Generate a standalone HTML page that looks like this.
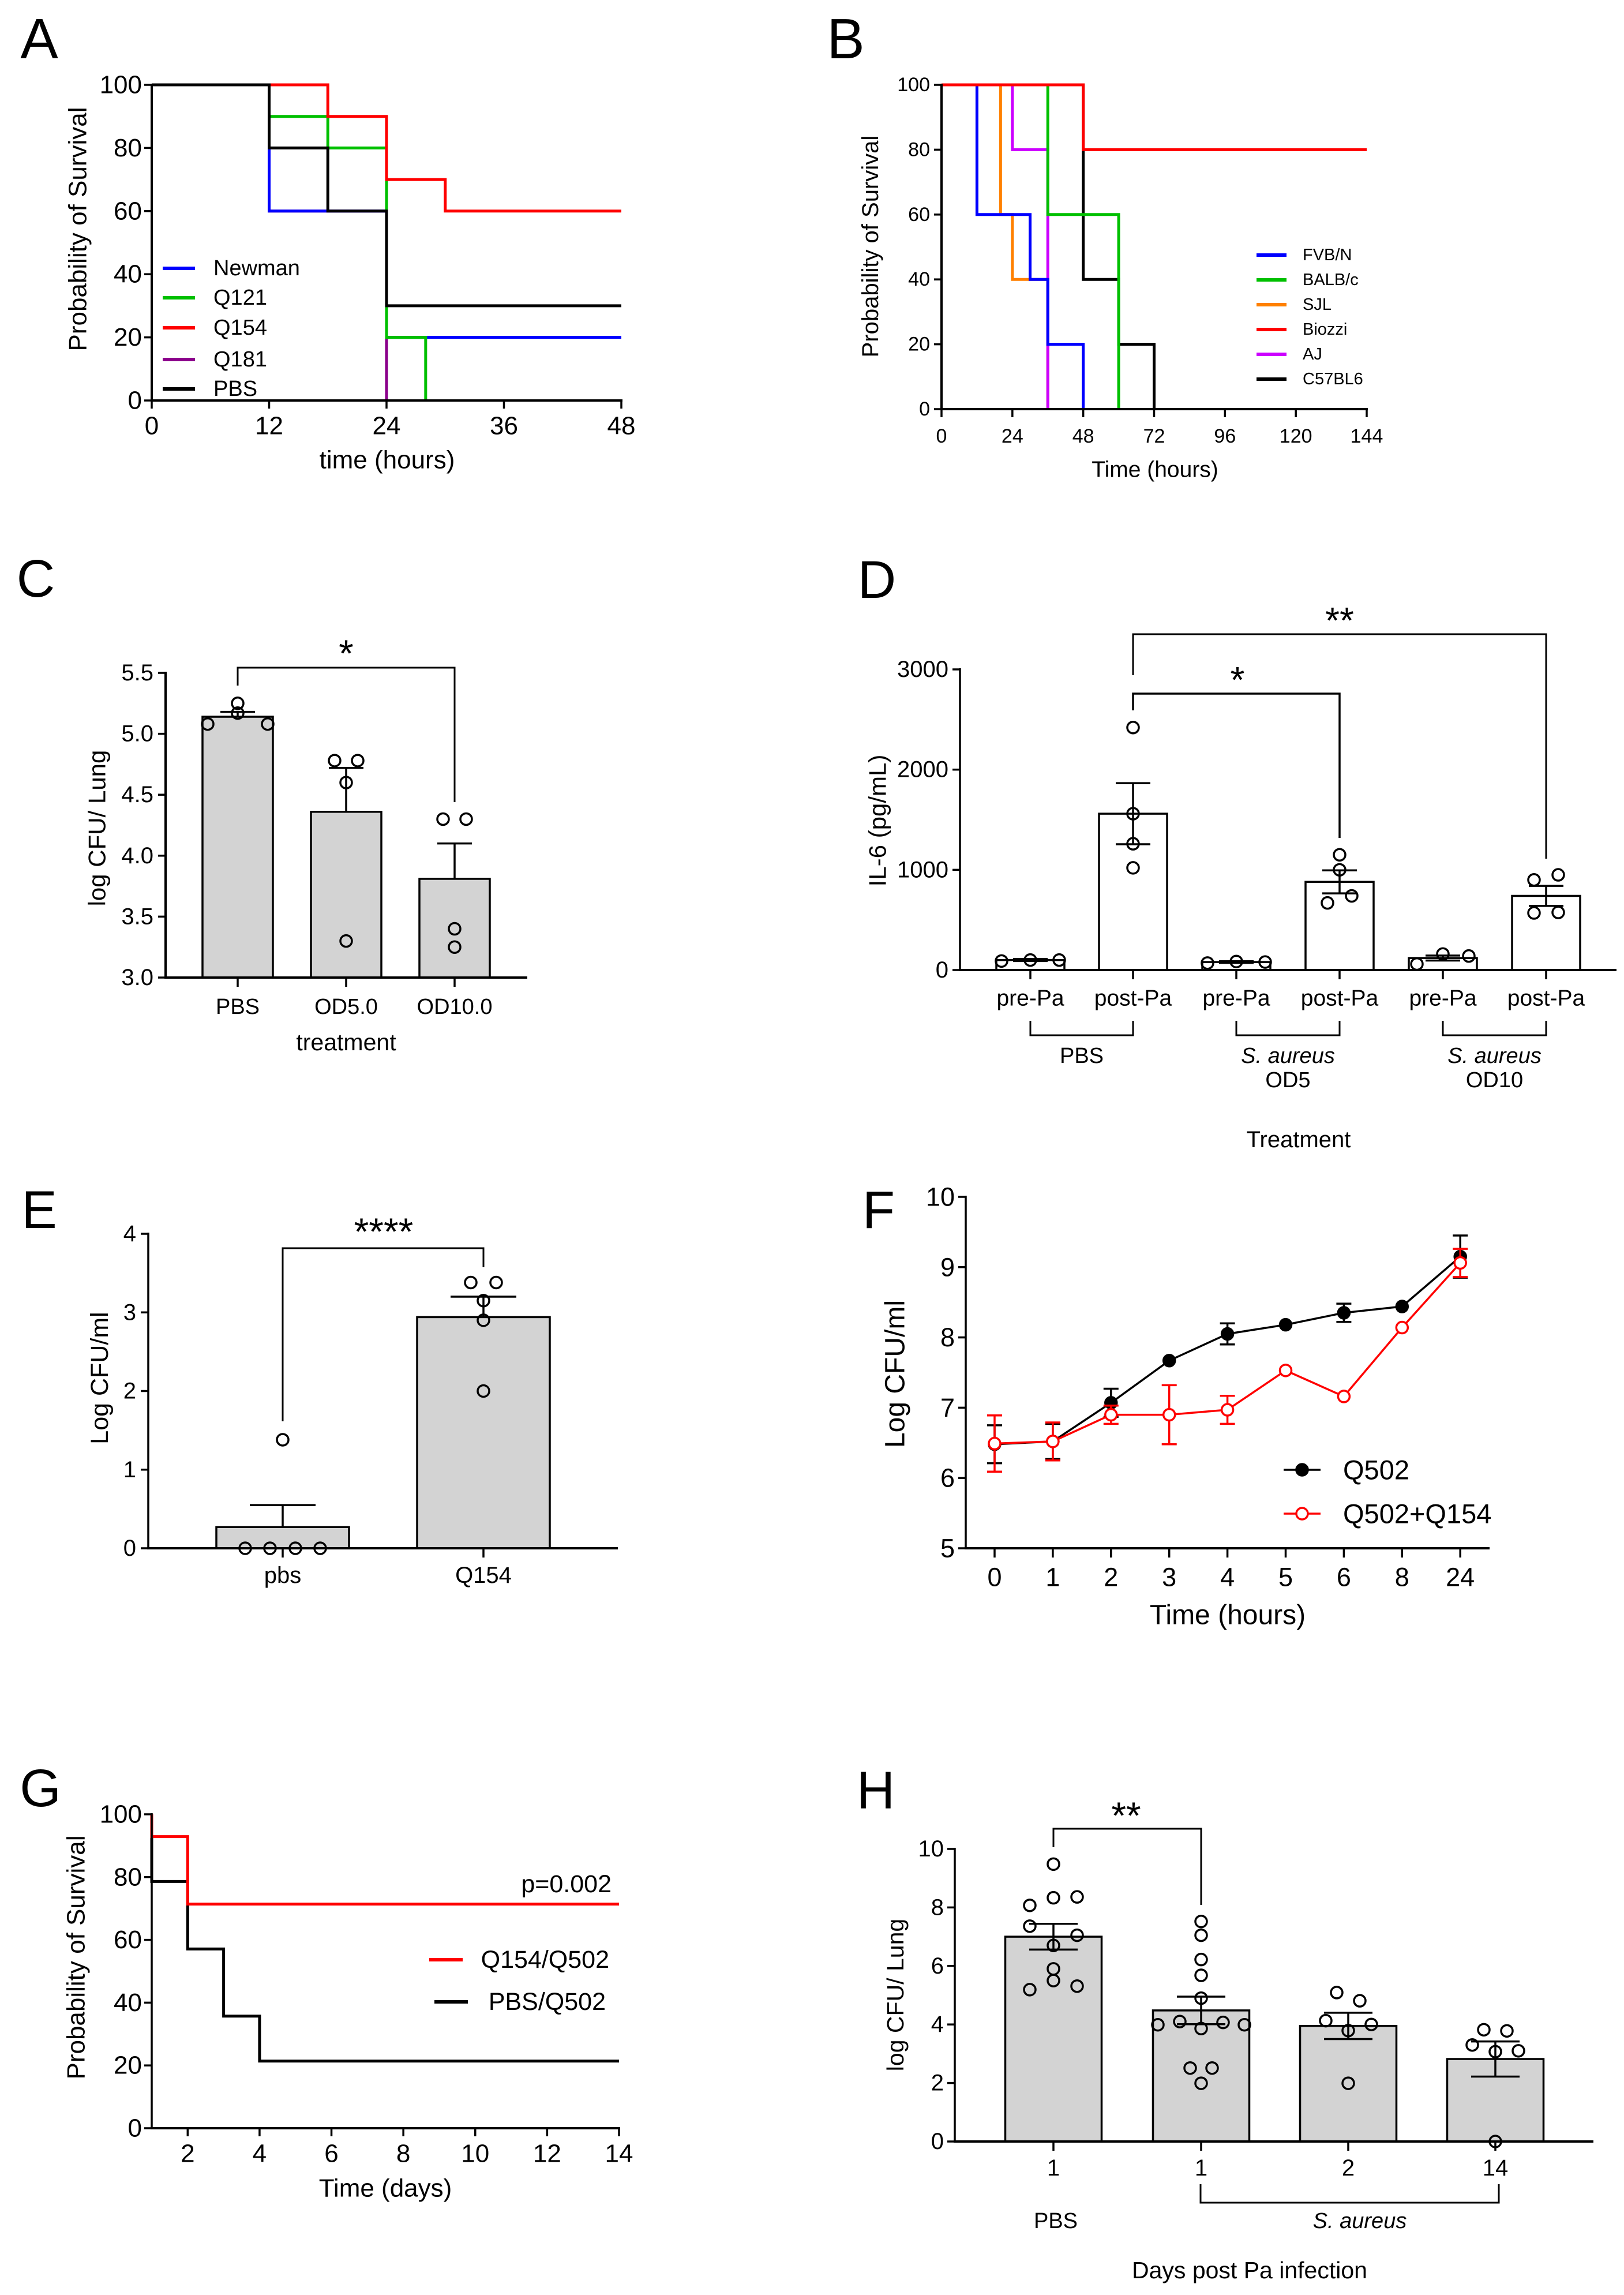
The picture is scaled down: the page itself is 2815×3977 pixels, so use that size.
<!DOCTYPE html>
<html><head><meta charset="utf-8"><title>Figure panels A–H</title>
<style>
html,body{margin:0;padding:0;background:#fff;}
svg{display:block;}
text{font-family:"Liberation Sans",Arial,sans-serif;fill:#000;}
</style></head>
<body>
<svg id="fig" xmlns="http://www.w3.org/2000/svg" width="2815" height="3977" viewBox="0 0 2815 3977">
<rect x="0" y="0" width="2815" height="3977" fill="#fff"/>
</svg>
<script>
// ===== Panel A data =====
const aNewmanTimes = [0,12,24,48];
const aNewmanSurv = [100,60,20];
const aQ121Times = [0,12,18,24,28,48];
const aQ121Surv = [100,90,80,20,0];
const aQ181Times = [0,12,24,48];
const aQ181Surv = [100,60,0];
const aQ154Times = [0,18,24,30,48];
const aQ154Surv = [100,90,70,60];
const aPBSTimes = [0,12,18,24,48];
const aPBSSurv = [100,80,60,30];
const aXTicks = [0,12,24,36,48];
const aYTicks = [0,20,40,60,80,100];
const aLegend = ["Newman","Q121","Q154","Q181","PBS"];
// ===== Panel B data =====
const bC57Times = [0,48,60,72,144];
const bC57Surv = [100,40,20,0];
const bSJLTimes = [0,20,24,36,144];
const bSJLSurv = [100,60,40,0];
const bAJTimes = [0,24,36,144];
const bAJSurv = [100,80,0];
const bBALBTimes = [0,36,60,144];
const bBALBSurv = [100,60,0];
const bFVBTimes = [0,12,30,36,48,144];
const bFVBSurv = [100,60,40,20,0];
const bBiozziTimes = [0,48,144];
const bBiozziSurv = [100,80];
const bXTicks = [0,24,48,72,96,120,144];
const bYTicks = [0,20,40,60,80,100];
const bLegend = ["FVB/N","BALB/c","SJL","Biozzi","AJ","C57BL6"];
// ===== Panel C data =====
const cCategories = ["PBS","OD5.0","OD10.0"];
const cMeans = [5.14,4.36,3.81];
const cSEM = [0.04,0.36,0.29];
const cPoints = [[5.25,5.17,5.08,5.08],[4.78,4.78,4.6,3.3],[4.3,4.3,3.4,3.25]];
const cYTicks = [3.0,3.5,4.0,4.5,5.0,5.5];
// ===== Panel D data =====
const dCategories = ["pre-Pa","post-Pa","pre-Pa","post-Pa","pre-Pa","post-Pa"];
const dMeans = [100,1560,80,880,120,740];
const dSEM = [10,305,8,115,25,100];
const dPoints = [[90,100,100],[2420,1560,1260,1020],[70,85,80],[1150,1000,670,740],[60,160,140],[900,950,570,575]];
const dGroups = ["PBS","S. aureus","S. aureus"];
const dGroupSub = ["","OD5","OD10"];
const dYTicks = [0,1000,2000,3000];
// ===== Panel E data =====
const eCategories = ["pbs","Q154"];
const eMeans = [0.27,2.94];
const eSEM = [0.28,0.26];
const ePoints = [[0,0,0,0,1.38],[3.38,3.38,3.15,2.9,2.0]];
const eYTicks = [0,1,2,3,4];
// ===== Panel F data =====
const fTimes = ["0","1","2","3","4","5","6","8","24"];
const fQ502 = [6.48,6.52,7.07,7.67,8.05,8.18,8.35,8.44,9.15];
const fQ502Err = [0.27,0.25,0.2,0,0.15,0,0.13,0,0.3];
const fCombo = [6.49,6.52,6.9,6.9,6.97,7.53,7.16,8.14,9.06];
const fComboErr = [0.4,0.27,0.13,0.42,0.2,0,0,0,0.2];
const fYTicks = [5,6,7,8,9,10];
// ===== Panel G data =====
const gQ154Times = [1,2,14];
const gQ154Surv = [92.9,71.4];
const gPBSTimes = [1,2,3,4,14];
const gPBSSurv = [78.6,57.1,35.7,21.4];
const gXTicks = [2,4,6,8,10,12,14];
const gYTicks = [0,20,40,60,80,100];
// ===== Panel H data =====
const hCategories = ["1","1","2","14"];
const hMeans = [7.0,4.48,3.95,2.82];
const hSEM = [0.44,0.47,0.45,0.6];
const hPoints = [
  [9.48,8.33,8.36,8.07,7.36,7.05,6.7,5.9,5.5,5.19,5.31],
  [7.52,7.05,6.22,5.68,4.9,3.99,4.1,3.86,4.07,3.99,2.51,2.51,1.99],
  [5.09,4.81,4.13,3.79,4.0,1.99],
  [3.82,3.78,3.3,3.07,3.1,0]
];
const hYTicks = [0,2,4,6,8,10];

// ===== helpers =====
const NS = "http://www.w3.org/2000/svg";
const svg = document.getElementById("fig");
function lin(d0,d1,r0,r1){return v=>r0+(v-d0)*(r1-r0)/(d1-d0);}
function mk(tag,attrs,name){
  const e=document.createElementNS(NS,tag);
  for(const k in attrs) e.setAttribute(k,attrs[k]);
  
  
  svg.appendChild(e);
  return e;
}
function line(x1,y1,x2,y2,w,col,name){return mk("line",{x1,y1,x2,y2,stroke:col||"#000","stroke-width":w||4,"stroke-linecap":"butt"},name);}
function txt(x,y,s,size,anchor,name,extra){
  const e=mk("text",Object.assign({x,y,"font-size":size,"text-anchor":anchor||"middle","dominant-baseline":"central"},extra||{}),name);
  e.textContent=s;return e;
}
function vtxt(x,y,s,size,name){
  return txt(x,y,s,size,"middle",name,{transform:`rotate(-90 ${x} ${y})`});
}
function step(xs,ys,times,surv,col,w,name){
  let d=`M${xs(times[0])},${ys(100)}`;
  for(let i=0;i<surv.length;i++){
    d+=` V${ys(surv[i])}`;
    if(surv[i]>0) d+=` H${xs(times[i+1])}`;
  }
  return mk("path",{d,fill:"none",stroke:col,"stroke-width":w,"stroke-linejoin":"miter"},name);
}
function circ(cx,cy,r,name,fill){return mk("circle",{cx,cy,r,fill:fill||"none",stroke:"#000","stroke-width":3.5},name);}

// ===== Panel A =====
(function(){
  const xs=lin(0,48,263,1077), ys=lin(0,100,694,147);
  txt(68,67,"A",98,"middle","panel-label-a");
  const cols={Newman:"#0000ff",Q121:"#00c000",Q154:"#ff0000",Q181:"#8b008b",PBS:"#000"};
  step(xs,ys,aQ181Times,aQ181Surv,cols.Q181,5,"survival-line-q181");
  step(xs,ys,aNewmanTimes,aNewmanSurv,cols.Newman,5,"survival-line-newman");
  step(xs,ys,aQ121Times,aQ121Surv,cols.Q121,5,"survival-line-q121");
  step(xs,ys,aQ154Times,aQ154Surv,cols.Q154,5,"survival-line-q154");
  step(xs,ys,aPBSTimes,aPBSSurv,cols.PBS,5,"survival-line-pbs");
  line(263,145,263,696,4,"#000","y-axis-a");
  line(261,694,1079,694,4,"#000","x-axis-a");
  aYTicks.forEach(v=>{line(250,ys(v),263,ys(v),3.5,"#000","y-tick-a");txt(246,ys(v),String(v),44,"end","y-tick-label-a");});
  aXTicks.forEach(v=>{line(xs(v),694,xs(v),708,3.5,"#000","x-tick-a");txt(xs(v),738,String(v),44,"middle","x-tick-label-a");});
  vtxt(135,397,"Probability of Survival",44,"y-axis-title-a");
  txt(671,797,"time (hours)",44,"middle","x-axis-title-a");
  const ly=[465,516,568,623,674];
  aLegend.forEach((n,i)=>{line(282,ly[i],338,ly[i],6,cols[n],"legend-swatch-a");txt(370,ly[i],n,38,"start","legend-entry-a");});
})();

// ===== Panel B =====
(function(){
  const xs=lin(0,144,1632,2369), ys=lin(0,100,709,147);
  txt(1466,67,"B",98,"middle","panel-label-b");
  const cols={"FVB/N":"#0000ff","BALB/c":"#00c000","SJL":"#ff8000","Biozzi":"#ff0000","AJ":"#cc00ff","C57BL6":"#000"};
  step(xs,ys,bC57Times,bC57Surv,cols["C57BL6"],5,"survival-line-c57bl6");
  step(xs,ys,bSJLTimes,bSJLSurv,cols["SJL"],5,"survival-line-sjl");
  step(xs,ys,bAJTimes,bAJSurv,cols["AJ"],5,"survival-line-aj");
  step(xs,ys,bBALBTimes,bBALBSurv,cols["BALB/c"],5,"survival-line-balbc");
  step(xs,ys,bFVBTimes,bFVBSurv,cols["FVB/N"],5,"survival-line-fvbn");
  step(xs,ys,bBiozziTimes,bBiozziSurv,cols["Biozzi"],5,"survival-line-biozzi");
  line(1632,145,1632,711,4,"#000","y-axis-b");
  line(1630,709,2371,709,4,"#000","x-axis-b");
  bYTicks.forEach(v=>{line(1619,ys(v),1632,ys(v),3.5,"#000","y-tick-b");txt(1612,ys(v),String(v),34,"end","y-tick-label-b");});
  bXTicks.forEach(v=>{line(xs(v),709,xs(v),723,3.5,"#000","x-tick-b");txt(xs(v),756,String(v),34,"middle","x-tick-label-b");});
  vtxt(1509,427,"Probability of Survival",40,"y-axis-title-b");
  txt(2002,814,"Time (hours)",39,"middle","x-axis-title-b");
  const ly=[442,485,528,571,614,657];
  bLegend.forEach((n,i)=>{line(2178,ly[i],2230,ly[i],6,cols[n],"legend-swatch-b");txt(2258,ly[i],n,29,"start","legend-entry-b");});
})();

// ===== Bar chart helper =====
function barPanel(o){
  const ys=o.ys;
  o.means.forEach((m,i)=>{
    const cx=o.centers[i];
    mk("rect",{x:cx-o.bw/2,y:ys(m),width:o.bw,height:ys(o.y0)-ys(m),fill:o.fill,stroke:"#000","stroke-width":3.5},"bar-"+o.id+"-"+i);
    const top=ys(m+o.sem[i]);
    line(cx,top,cx,o.both?ys(m-o.sem[i]):ys(m),3.5,"#000","error-bar-"+o.id);
    line(cx-o.cap,top,cx+o.cap,top,3.5,"#000","error-cap-"+o.id);
    if(o.both){line(cx-o.cap,ys(m-o.sem[i]),cx+o.cap,ys(m-o.sem[i]),3.5,"#000","error-cap-"+o.id);}
    o.points[i].forEach((v,j)=>{circ(cx+o.offsets[i][j],ys(v),o.r,"data-point-"+o.id);});
  });
}

// ===== Panel C =====
(function(){
  const ys=lin(3,5.5,1694,1166);
  txt(62,1003,"C",92,"middle","panel-label-c");
  const centers=[412,600,788];
  barPanel({id:"c",ys,y0:3,means:cMeans,sem:cSEM,points:cPoints,centers,bw:122,fill:"#d3d3d3",cap:30,both:false,r:10,
    offsets:[[0,0,-52,52],[-20,20,0,0],[-20,20,0,0]]});
  line(287,1164,287,1696,4,"#000","y-axis-c");
  line(285,1694,914,1694,4,"#000","x-axis-c");
  cYTicks.forEach(v=>{line(274,ys(v),287,ys(v),3.5,"#000","y-tick-c");txt(266,ys(v),v.toFixed(1),40,"end","y-tick-label-c");});
  cCategories.forEach((c,i)=>{line(centers[i],1694,centers[i],1710,3.5,"#000","x-tick-c");txt(centers[i],1745,c,38,"middle","x-tick-label-c");});
  vtxt(168,1435,"log CFU/ Lung",42,"y-axis-title-c");
  txt(600,1806,"treatment",41,"middle","x-axis-title-c");
  mk("path",{d:`M412,1188 V1157 H788 V1390`,fill:"none",stroke:"#000","stroke-width":3},"significance-bracket-c");
  txt(600,1132,"*",66,"middle","significance-star-c");
})();

// ===== Panel D =====
(function(){
  const ys=lin(0,3000,1681,1160);
  txt(1520,1005,"D",92,"middle","panel-label-d");
  const centers=[1786,1964,2143,2322,2501,2680];
  barPanel({id:"d",ys,y0:0,means:dMeans,sem:dSEM,points:dPoints,centers,bw:118,fill:"#fff",cap:30,both:true,r:10,
    offsets:[[-50,0,50],[0,0,0,0],[-50,0,50],[0,0,-21,21],[-45,0,45],[-21,21,-21,21]]});
  line(1664,1158,1664,1683,3.5,"#000","y-axis-d");
  line(1662,1681,2802,1681,4,"#000","x-axis-d");
  dYTicks.forEach(v=>{line(1651,ys(v),1664,ys(v),3.5,"#000","y-tick-d");txt(1644,ys(v),String(v),40,"end","y-tick-label-d");});
  dCategories.forEach((c,i)=>{line(centers[i],1681,centers[i],1697,3.5,"#000","x-tick-d");txt(centers[i],1730,c,39,"middle","x-tick-label-d");});
  dGroups.forEach((g,k)=>{
    const a=centers[2*k],b=centers[2*k+1],m=(a+b)/2;
    mk("path",{d:`M${a},1769 V1794 H${b} V1769`,fill:"none",stroke:"#000","stroke-width":3},"group-bracket-d");
    txt(m,1830,g,38,"middle","group-label-d",k>0?{"font-style":"italic"}:{});
    if(dGroupSub[k]) txt(m,1872,dGroupSub[k],38,"middle","group-sublabel-d");
  });
  vtxt(1521,1422,"IL-6 (pg/mL)",42,"y-axis-title-d");
  txt(2251,1975,"Treatment",40,"middle","x-axis-title-d");
  mk("path",{d:`M1964,1231 V1202 H2322 V1452`,fill:"none",stroke:"#000","stroke-width":3.5},"significance-bracket-d1");
  txt(2145,1178,"*",64,"middle","significance-star-d1");
  mk("path",{d:`M1964,1170 V1099 H2680 V1488`,fill:"none",stroke:"#000","stroke-width":3},"significance-bracket-d2");
  txt(2322,1075,"**",64,"middle","significance-star-d2");
})();

// ===== Panel E =====
(function(){
  const ys=lin(0,4,2683,2138);
  txt(68,2097,"E",92,"middle","panel-label-e");
  const centers=[490,838];
  barPanel({id:"e",ys,y0:0,means:eMeans,sem:eSEM,points:ePoints,centers,bw:230,fill:"#d3d3d3",cap:57,both:false,r:10,
    offsets:[[-65,-22,22,65,0],[-22,22,0,0,0]]});
  line(257,2136,257,2685,3.5,"#000","y-axis-e");
  line(255,2683,1071,2683,4,"#000","x-axis-e");
  eYTicks.forEach(v=>{line(244,ys(v),257,ys(v),3.5,"#000","y-tick-e");txt(236,ys(v),String(v),40,"end","y-tick-label-e");});
  eCategories.forEach((c,i)=>{line(centers[i],2683,centers[i],2699,3.5,"#000","x-tick-e");txt(centers[i],2730,c,40,"middle","x-tick-label-e");});
  vtxt(173,2388,"Log CFU/ml",43,"y-axis-title-e");
  mk("path",{d:`M490,2463 V2163 H838 V2196`,fill:"none",stroke:"#000","stroke-width":3},"significance-bracket-e");
  txt(665,2134,"****",66,"middle","significance-stars-e");
})();

// ===== Panel F =====
(function(){
  const ys=lin(5,10,2683,2074);
  const xs=i=>1724+i*100.9;
  txt(1523,2097,"F",92,"middle","panel-label-f");
  line(1674,2072,1674,2685,3.5,"#000","y-axis-f");
  line(1672,2683,2582,2683,4,"#000","x-axis-f");
  fYTicks.forEach(v=>{line(1661,ys(v),1674,ys(v),3.5,"#000","y-tick-f");txt(1655,ys(v),String(v),45,"end","y-tick-label-f");});
  fTimes.forEach((t,i)=>{line(xs(i),2683,xs(i),2699,3.5,"#000","x-tick-f");txt(xs(i),2733,t,45,"middle","x-tick-label-f");});
  function series(vals,errs,col,filled,id){
    let d="";vals.forEach((v,i)=>{d+=(i?" L":"M")+xs(i)+","+ys(v);});
    mk("path",{d,fill:"none",stroke:col,"stroke-width":3.5},"series-line-"+id);
    vals.forEach((v,i)=>{
      if(errs[i]>0){
        line(xs(i),ys(v-errs[i]),xs(i),ys(v+errs[i]),3.5,col,"error-bar-"+id);
        line(xs(i)-13,ys(v+errs[i]),xs(i)+13,ys(v+errs[i]),3.5,col,"error-cap-"+id);
        line(xs(i)-13,ys(v-errs[i]),xs(i)+13,ys(v-errs[i]),3.5,col,"error-cap-"+id);
      }
      mk("circle",{cx:xs(i),cy:ys(v),r:10,fill:filled?col:"#fff",stroke:col,"stroke-width":3.5},"data-point-"+id);
    });
  }
  series(fQ502,fQ502Err,"#000",true,"q502");
  series(fCombo,fComboErr,"#ff0000",false,"q502-q154");
  line(2225,2547,2289,2547,3.5,"#000","legend-swatch-q502");
  mk("circle",{cx:2257,cy:2547,r:10,fill:"#000",stroke:"#000","stroke-width":3.5},"legend-marker-q502");
  txt(2328,2547,"Q502",47,"start","legend-entry-q502");
  line(2225,2623,2289,2623,3.5,"#ff0000","legend-swatch-q502-q154");
  mk("circle",{cx:2257,cy:2623,r:10,fill:"#fff",stroke:"#ff0000","stroke-width":3.5},"legend-marker-q502-q154");
  txt(2328,2623,"Q502+Q154",47,"start","legend-entry-q502-q154");
  vtxt(1552,2381,"Log CFU/ml",48,"y-axis-title-f");
  txt(2128,2799,"Time (hours)",48,"middle","x-axis-title-f");
})();

// ===== Panel G =====
(function(){
  const xs=lin(1,14,263,1073), ys=lin(0,100,3688,3144);
  txt(70,3099,"G",92,"middle","panel-label-g");
  step(xs,ys,gPBSTimes,gPBSSurv,"#000",5,"survival-line-pbs-q502");
  step(xs,ys,gQ154Times,gQ154Surv,"#ff0000",5,"survival-line-q154-q502");
  line(263,3142,263,3690,3.5,"#000","y-axis-g");
  line(261,3688,1075,3688,4,"#000","x-axis-g");
  gYTicks.forEach(v=>{line(250,ys(v),263,ys(v),3.5,"#000","y-tick-g");txt(246,ys(v),String(v),44,"end","y-tick-label-g");});
  gXTicks.forEach(v=>{line(xs(v),3688,xs(v),3702,3.5,"#000","x-tick-g");txt(xs(v),3732,String(v),44,"middle","x-tick-label-g");});
  vtxt(132,3392,"Probability of Survival",44,"y-axis-title-g");
  txt(668,3792,"Time (days)",44,"middle","x-axis-title-g");
  txt(1060,3265,"p=0.002",43,"end","p-value-label-g");
  line(744,3396,802,3396,6,"#ff0000","legend-swatch-q154-q502");
  txt(1056,3396,"Q154/Q502",43,"end","legend-entry-q154-q502");
  line(753,3469,811,3469,6,"#000","legend-swatch-pbs-q502");
  txt(1050,3469,"PBS/Q502",43,"end","legend-entry-pbs-q502");
})();

// ===== Panel H =====
(function(){
  const ys=lin(0,10,3711,3204);
  txt(1518,3103,"H",92,"middle","panel-label-h");
  const centers=[1826,2082,2337,2592];
  barPanel({id:"h",ys,y0:0,means:hMeans,sem:hSEM,points:hPoints,centers,bw:167,fill:"#d3d3d3",cap:42,both:true,r:10,
    offsets:[[0,0,41,-41,-41,41,0,0,0,-41,41],[0,0,0,0,0,-75,-37,0,38,75,-19,19,0],[-20,20,-39,0,40,0],[-20,20,-40,0,40,0]]});
  line(1655,3202,1655,3713,3.5,"#000","y-axis-h");
  line(1653,3711,2762,3711,4,"#000","x-axis-h");
  hYTicks.forEach(v=>{line(1642,ys(v),1655,ys(v),3.5,"#000","y-tick-h");txt(1636,ys(v),String(v),40,"end","y-tick-label-h");});
  hCategories.forEach((c,i)=>{line(centers[i],3711,centers[i],3727,3.5,"#000","x-tick-h");txt(centers[i],3757,c,40,"middle","x-tick-label-h");});
  mk("path",{d:`M2081,3785 V3817 H2598 V3785`,fill:"none",stroke:"#000","stroke-width":3},"group-bracket-h");
  txt(1830,3849,"PBS",38,"middle","group-label-pbs-h");
  txt(2357,3849,"S. aureus",38,"middle","group-label-saureus-h",{"font-style":"italic"});
  vtxt(1552,3457,"log CFU/ Lung",41,"y-axis-title-h");
  txt(2166,3934,"Days post Pa infection",41,"middle","x-axis-title-h");
  mk("path",{d:`M1826,3201 V3169 H2082 V3301`,fill:"none",stroke:"#000","stroke-width":3},"significance-bracket-h");
  txt(1952,3146,"**",66,"middle","significance-stars-h");
})();
</script>
</body></html>
